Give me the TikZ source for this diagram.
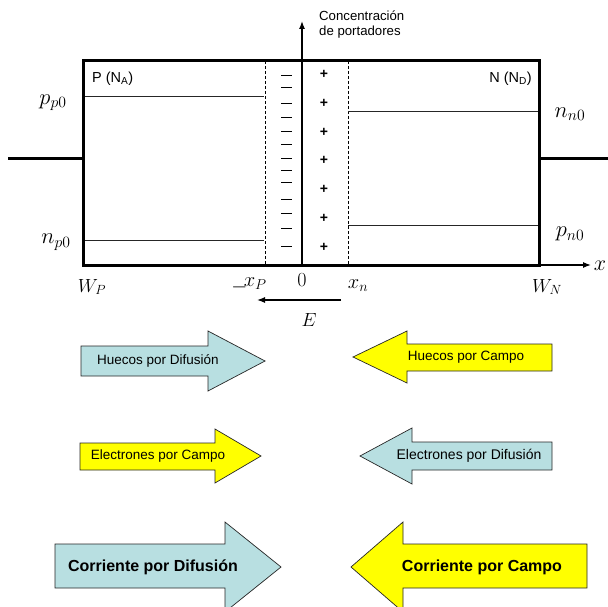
\RequirePackage{fix-cm}
\documentclass[tikz,border=0pt]{standalone}
\usepackage[no-math]{fontspec}
\setmainfont{Liberation Sans}
\usetikzlibrary{arrows.meta}
\definecolor{lblue}{RGB}{184,223,225}
\definecolor{yel}{RGB}{255,255,0}
\tikzset{
  frame/.style={line width=3pt},
  axisline/.style={line width=1.3pt},
  level/.style={line width=0.8pt, black!85},
  boundary/.style={line width=0.8pt, dash pattern=on 3pt off 2pt},
  mlbl/.style={inner sep=0pt, font=\fontsize{19}{21}\selectfont},
  clbl/.style={inner sep=0pt, font=\fontsize{22.5}{24}\selectfont},
  txt/.style={inner sep=0pt, font=\fontsize{13.5}{16}\selectfont},
  btxt/.style={inner sep=0pt, font=\fontsize{16}{19}\selectfont\bfseries},
  fatarrow/.style={draw=black!85, line width=0.7pt},
  chg/.style={inner sep=0pt, font=\fontsize{14}{16}\selectfont\bfseries},
}
\begin{document}
\begin{tikzpicture}[x=1pt,y=-1pt]
\useasboundingbox (0,0) rectangle (608,607);
\clip (0,0) rectangle (608,607);
% axes
\coordinate (o) at (302,265);
\coordinate (ytop) at (302,21);
\coordinate (xend) at (539,265);
\coordinate (xtip) at (591,265);
\draw[axisline,-{Latex[length=8pt,width=6pt]}] (o) -- (ytop);
\draw[axisline,-{Latex[length=8pt,width=6pt]}] (xend) -- (xtip);
\node[inner sep=0pt, anchor=north west, align=left, font=\fontsize{13.2}{15}\selectfont] (conc) at (319,11) {Concentración\\de portadores};
% box and leads
\draw[frame] (83,61) rectangle (539,265);
\draw[frame] (8,159) -- (83,159);
\draw[frame] (539,159) -- (608,159);
% depletion boundaries
\draw[boundary] (265,61) -- (265,265);
\draw[boundary] (348,61) -- (348,265);
% carrier levels
\draw[level] (85,96) -- (264,96);
\draw[level] (85,240) -- (264,240);
\draw[level] (348,111) -- (538,111);
\draw[level] (348,225) -- (538,225);
% charges
\foreach \yy in {75.3,87.3,103.3,117.3,131.7,144,158.3,170.7,182.7,199,213.3,228.7,246.7}
  \draw[line width=0.9pt] (281,\yy) -- (292,\yy);
\foreach \yy in {74,103,132,160,189,218,247}
  \node[chg] at (324,\yy) {+};
% region labels
\node[inner sep=0pt, anchor=west, font=\fontsize{14.5}{16}\selectfont] (P) at (92,79) {P (N\textsubscript{A})};
\node[inner sep=0pt, anchor=east, font=\fontsize{14.5}{16}\selectfont] (N) at (532,79) {N (N\textsubscript{D})};
% concentration labels
\node[clbl] (pp0) at (53,103) {$p_{p0}$};
\node[clbl] (np0) at (56,242) {$n_{p0}$};
\node[clbl] (nn0) at (570,114) {$n_{n0}$};
\node[clbl] (pn0) at (570,234) {$p_{n0}$};
% axis labels
\node[mlbl] (WP) at (92,287) {$W_P$};
\node[mlbl, font=\fontsize{20.5}{22}\selectfont] (mxp) at (249,286) {\raisebox{-0.5ex}{$-$}\!$x_P$};
\node[mlbl, font=\fontsize{20}{22}\selectfont] (zero) at (302,280) {$0$};
\node[mlbl, font=\fontsize{20.5}{22}\selectfont] (xn) at (358,286) {$x_n$};
\node[mlbl] (WN) at (547,287) {$W_N$};
\node[mlbl, font=\fontsize{22}{24}\selectfont] (xl) at (600,266) {$x$};
% field
\coordinate (Ea) at (341,300);
\coordinate (Eb) at (257,300);
\draw[axisline,-{Latex[length=8pt,width=6pt]}] (Ea) -- (Eb);
\node[mlbl] (E) at (309,320) {$E$};
% big arrows
\draw[fatarrow, fill=lblue] (81,346) -- (208,346) -- (208,331) -- (265,361) -- (208,391) -- (208,376) -- (81,376) -- cycle;
\node[txt] (hd) at (158,361) {Huecos por Difusión};
\draw[fatarrow, fill=yel] (552,344) -- (407,344) -- (407,331) -- (353,357) -- (407,383) -- (407,371) -- (552,371) -- cycle;
\node[txt] (hc) at (466,357) {Huecos por Campo};
\draw[fatarrow, fill=yel] (80,443) -- (215,443) -- (215,429) -- (261,456) -- (215,483) -- (215,470) -- (80,470) -- cycle;
\node[txt] (ec) at (158,456) {Electrones por Campo};
\draw[fatarrow, fill=lblue] (552,442) -- (412,442) -- (412,428) -- (360,456) -- (412,484) -- (412,470) -- (552,470) -- cycle;
\node[txt, font=\fontsize{14}{16}\selectfont] (ed) at (469,456) {Electrones por Difusión};
\draw[fatarrow, fill=lblue] (55,544) -- (225,544) -- (225,522) -- (281,567) -- (225,612) -- (225,588) -- (55,588) -- cycle;
\node[btxt] (cd) at (153,567) {Corriente por Difusión};
\draw[fatarrow, fill=yel] (587,544) -- (403,544) -- (403,522) -- (351,567) -- (403,612) -- (403,588) -- (587,588) -- cycle;
\node[btxt] (cc) at (482,567) {Corriente por Campo};
\end{tikzpicture}
\end{document}
